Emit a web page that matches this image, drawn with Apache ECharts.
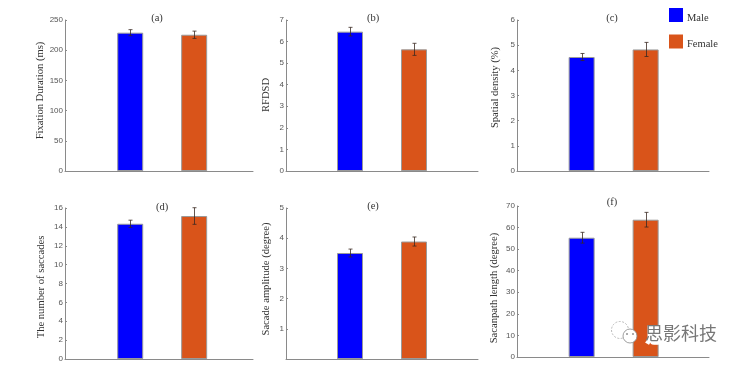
<!DOCTYPE html>
<html><head><meta charset="utf-8">
<style>html,body{margin:0;padding:0;background:#fff}#c{width:740px;height:366px}</style>
<script src="https://cdn.jsdelivr.net/npm/echarts@6/dist/echarts.min.js"></script>
</head><body><div id="c"></div>
<script>
const panelTitles = ['(a)','(b)','(c)','(d)','(e)','(f)'];
const yNames = ['Fixation Duration (ms)','RFDSD','Spatial density (%)','The number of saccades','Sacade amplitude (degree)','Sacanpath length (degree)'];
const yMax = [250,7,6,16,5,70];
const yStep = [50,1,1,2,1,10];
const maleValues = [229,6.46,4.53,14.33,3.51,55.3];
const femaleValues = [225.6,5.64,4.83,15.15,3.89,63.65];
const maleErrors = [5,0.2,0.14,0.38,0.13,2.5];
const femaleErrors = [6,0.28,0.28,0.88,0.15,3.4];
const groupNames = ['Male','Female'];
const colors = ['#0000ff','#d9541a'];

const boxes = [
 [65,20,188,151],[286,20,192,151],[517,20,192,151],
 [65,208,188,151],[286,208,192,151],[517,206,192,151]
];
const xRanges = [[-0.02,2.92],[0,3],[-0.01,2.99],[-0.02,2.92],[0,3],[-0.01,2.99]];
const nameGaps = [18,14,16,18,14,17];
const namePads = [[0,0,0,10],[0,0,0,1],[0,0,0,16],[0,7,0,0],[0,0,0,9],[0,13,0,0]];
const titleX = [157,373,612,162,373,612];
const titleY = [18.5,18.5,18.5,208,207,203];
const serif = '"Liberation Serif","Times New Roman",serif';
const sans = '"Liberation Sans",Arial,sans-serif';
const grid=[],xAxis=[],yAxis=[],series=[],title=[];
boxes.forEach((b,i)=>{
  grid.push({left:b[0],top:b[1],width:b[2],height:b[3]});
  xAxis.push({type:'value',gridIndex:i,min:xRanges[i][0],max:xRanges[i][1],
    axisLine:{show:true,onZero:false,lineStyle:{color:'#8a8a8a',width:1}},
    axisTick:{show:false},axisLabel:{show:false},splitLine:{show:false}});
  yAxis.push({type:'value',gridIndex:i,min:0,max:yMax[i],interval:yStep[i],
    name:yNames[i],nameLocation:'middle',nameRotate:90,nameGap:nameGaps[i],
    nameTextStyle:{fontFamily:serif,fontSize:10.6,color:'#333',padding:namePads[i]},
    axisLine:{show:true,onZero:false,lineStyle:{color:'#8a8a8a',width:1}},
    axisTick:{show:true,inside:true,length:2,lineStyle:{color:'#8a8a8a'}},
    axisLabel:{fontFamily:sans,fontSize:8,color:'#555',margin:2,
      formatter:v=>(i===4&&v===0)?'':String(v)},
    splitLine:{show:false}});
  [0,1].forEach(g=>{
    const v=g?femaleValues[i]:maleValues[i], e=g?femaleErrors[i]:maleErrors[i], x=g+1;
    series.push({type:'bar',name:groupNames[g],xAxisIndex:i,yAxisIndex:i,
      barWidth:26,barGap:'-100%',data:[[x,v]],
      itemStyle:{color:colors[g],borderColor:'#9a9a9a',borderWidth:1}});
    series.push({type:'custom',xAxisIndex:i,yAxisIndex:i,silent:true,z:5,
      data:[[x,v-e,v+e]],
      renderItem(p,api){
        const lo=api.coord([api.value(0),api.value(1)]);
        const hi=api.coord([api.value(0),api.value(2)]);
        const cx=Math.round(lo[0])+0.5, s={stroke:'#3a2a22',lineWidth:0.8};
        return {type:'group',children:[
          {type:'line',shape:{x1:cx,y1:lo[1],x2:cx,y2:hi[1]},style:s},
          {type:'line',shape:{x1:cx-2,y1:lo[1],x2:cx+2,y2:lo[1]},style:s},
          {type:'line',shape:{x1:cx-2,y1:hi[1],x2:cx+2,y2:hi[1]},style:s}
        ]};
      }});
  });
});
panelTitles.forEach((t,i)=>title.push({text:t,left:titleX[i],top:titleY[i]-6,textAlign:'center',padding:0,
  textStyle:{fontFamily:serif,fontSize:10.5,fontWeight:'normal',color:'#333'}}));

const chart=echarts.init(document.getElementById('c'),null,{renderer:'canvas'});
chart.setOption({
  animation:false,backgroundColor:'#fff',title,grid,xAxis,yAxis,series,
  legend:{data:groupNames,orient:'vertical',left:669,top:8,padding:0,itemWidth:14,itemHeight:14,itemGap:11,
    icon:'rect',itemStyle:{borderWidth:0},
    formatter:n=>'{a|'+n+'}',
    textStyle:{fontFamily:serif,fontSize:10.5,color:'#333',
      rich:{a:{fontFamily:serif,fontSize:10.5,color:'#333',padding:[6,0,0,-1]}}}},
  graphic:[
    {type:'circle',z:20,shape:{cx:620,cy:330,r:8.5},style:{fill:'#fff',stroke:'#aaa',lineWidth:0.8,lineDash:[2,1.5]}},
    {type:'circle',z:21,shape:{cx:630,cy:336,r:7},style:{fill:'#fff',stroke:'#888',lineWidth:0.8}},
    {type:'circle',z:22,shape:{cx:627,cy:334,r:0.8},style:{fill:'#444'}},
    {type:'circle',z:22,shape:{cx:633,cy:334,r:0.8},style:{fill:'#444'}},
    {type:'text',left:645,top:324.5,z:23,style:{text:'思影科技',fontFamily:'"Noto Sans CJK SC"',fontSize:18,
      fill:'#fff',stroke:'#fff',lineWidth:3}},
    {type:'text',left:645,top:324.5,z:24,style:{text:'思影科技',fontFamily:'"Noto Sans CJK SC"',fontSize:18,
      fill:'#777'}}
  ]
});
</script></body></html>
